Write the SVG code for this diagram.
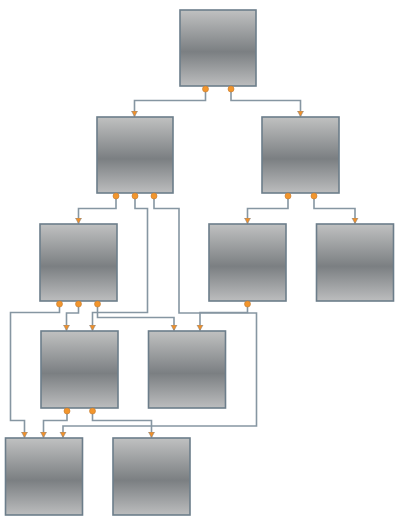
<svg xmlns="http://www.w3.org/2000/svg" width="400" height="524" viewBox="0 0 400 524">
<defs>
<linearGradient id="g" x1="0" y1="0" x2="0" y2="1">
<stop offset="0" stop-color="#c0c1c1"/>
<stop offset="0.55" stop-color="#7b7f82"/>
<stop offset="1" stop-color="#bcbdbe"/>
</linearGradient>
<marker id="arr" markerUnits="userSpaceOnUse" markerWidth="8" markerHeight="8" refX="6" refY="3.5" orient="auto" viewBox="0 0 8 7">
<path d="M0.5,0.5 L6,3.5 L0.5,6.5 z" fill="#f0902a" stroke="#8a8a8a" stroke-width="0.6"/>
</marker>
<style>
.node rect{fill:url(#g);stroke:#6c7d8a;stroke-width:1.6}
.port{fill:#f3962c;stroke:#c27a33;stroke-width:0.6}
#connectors path{fill:none;stroke:#8696a2;stroke-width:1.6;marker-end:url(#arr)}
</style>
</defs>
<rect width="400" height="524" fill="#ffffff"/>
<g id="connectors">
<path d="M205.5 89 V100.5 H134.5 V116.5"/>
<path d="M231 89 V100.5 H300.5 V116.5"/>
<path d="M116 196 V208.5 H78.5 V223.5"/>
<path d="M135 196 V208.5 H147.5 V312.5 H92.5 V330.5"/>
<path d="M154 196 V208.5 H179 V313 H256.5 V426 H63 V437.5"/>
<path d="M288 196 V208.5 H247.5 V223.5"/>
<path d="M314 196 V208.5 H355 V223.5"/>
<path d="M59.5 304 V312.5 H10.5 V420.5 H24.5 V437.5"/>
<path d="M78.5 304 V313 H66.5 V330.5"/>
<path d="M97.5 304 V317.5 H174 V330.5"/>
<path d="M247.5 304 V312.5 H200 V330.5"/>
<path d="M67 411 V420.5 H43.5 V437.5"/>
<path d="M92.5 411 V420.5 H151.5 V437.5"/>
</g>
<g id="n0" class="node"><rect x="180" y="10" width="76" height="76"/><circle class="port" cx="205.5" cy="89" r="3"/><circle class="port" cx="231" cy="89" r="3"/></g>
<g id="n1" class="node"><rect x="97" y="117" width="76" height="76"/><circle class="port" cx="116" cy="196" r="3"/><circle class="port" cx="135" cy="196" r="3"/><circle class="port" cx="154" cy="196" r="3"/></g>
<g id="n2" class="node"><rect x="262" y="117" width="77" height="76"/><circle class="port" cx="288" cy="196" r="3"/><circle class="port" cx="314" cy="196" r="3"/></g>
<g id="n3" class="node"><rect x="40" y="224" width="77" height="77"/><circle class="port" cx="59.5" cy="304" r="3"/><circle class="port" cx="78.5" cy="304" r="3"/><circle class="port" cx="97.5" cy="304" r="3"/></g>
<g id="n4" class="node"><rect x="209" y="224" width="77" height="77"/><circle class="port" cx="247.5" cy="304" r="3"/></g>
<g id="n5" class="node"><rect x="316.5" y="224" width="77" height="77"/></g>
<g id="n6" class="node"><rect x="41" y="331" width="77" height="77"/><circle class="port" cx="67" cy="411" r="3"/><circle class="port" cx="92.5" cy="411" r="3"/></g>
<g id="n7" class="node"><rect x="148.5" y="331" width="77" height="77"/></g>
<g id="n8" class="node"><rect x="5.5" y="438" width="77" height="77"/></g>
<g id="n9" class="node"><rect x="113" y="438" width="77" height="77"/></g>
</svg>
